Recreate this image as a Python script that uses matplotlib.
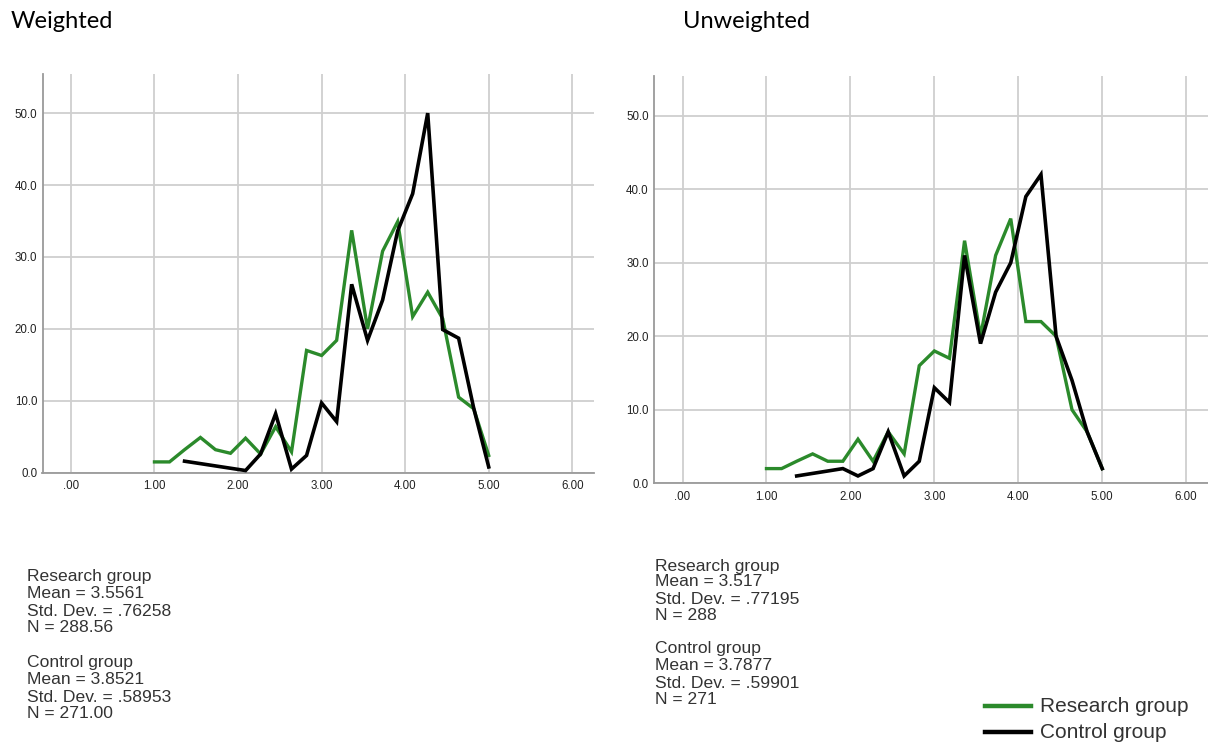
import matplotlib
matplotlib.use("Agg")
import matplotlib.pyplot as plt
from matplotlib.lines import Line2D

# Bin centres of the score scale (steps of 2/11 between 1 and 5)
bins = [1.00, 1.18, 1.36, 1.55, 1.73, 1.91, 2.09, 2.27, 2.45, 2.64, 2.82, 3.00,
        3.18, 3.36, 3.55, 3.73, 3.91, 4.09, 4.27, 4.45, 4.64, 4.82, 5.00]

# Weighted frequencies
w_research = [1.5, 1.5, 3.2, 4.9, 3.2, 2.7, 4.8, 2.6, 6.4, 2.9, 17.0, 16.3,
              18.4, 33.7, 20.0, 30.8, 34.9, 21.7, 25.1, 21.4, 10.5, 8.9, 2.4]
w_control_x = [1.36, 2.09, 2.27, 2.45, 2.64, 2.82, 3.00, 3.18, 3.36, 3.55, 3.73,
               3.91, 4.09, 4.27, 4.45, 4.64, 4.82, 5.00]
w_control = [1.6, 0.3, 2.6, 8.2, 0.5, 2.4, 9.7, 7.1, 26.2, 18.4, 24.0,
             33.6, 38.8, 50.0, 19.9, 18.7, 9.0, 0.8]

# Unweighted counts
u_research = [2, 2, 3, 4, 3, 3, 6, 3, 7, 4, 16, 18,
              17, 33, 20, 31, 36, 22, 22, 20, 10, 7, 2]
u_control_x = [1.36, 1.91, 2.09, 2.27, 2.45, 2.64, 2.82, 3.00, 3.18, 3.36, 3.55,
               3.73, 3.91, 4.09, 4.27, 4.45, 4.64, 4.82, 5.00]
u_control = [1, 2, 1, 2, 7, 1, 3, 13, 11, 31, 19,
             26, 30, 39, 42, 20, 14, 7, 2]

x_ticks = [0, 1, 2, 3, 4, 5, 6]
x_ticklabels = [".00", "1.00", "2.00", "3.00", "4.00", "5.00", "6.00"]
y_ticks = [0, 10, 20, 30, 40, 50]
y_ticklabels = ["0.0", "10.0", "20.0", "30.0", "40.0", "50.0"]

titles = ["Weighted", "Unweighted"]
stats_weighted = [["Research group", "Mean = 3.5561", "Std. Dev. = .76258", "N = 288.56"],
                  ["Control group", "Mean = 3.8521", "Std. Dev. = .58953", "N = 271.00"]]
stats_unweighted = [["Research group", "Mean = 3.517", "Std. Dev. = .77195", "N = 288"],
                    ["Control group", "Mean = 3.7877", "Std. Dev. = .59901", "N = 271"]]
legend_labels = ["Research group", "Control group"]

GREEN = "#2b8a2b"
BLACK = "#000000"
GRID = "#cfcfcf"
SPINE = "#9a9a9a"
TEXTFONT = ["Liberation Sans", "DejaVu Sans"]

W, H = 1208, 743
fig = plt.figure(figsize=(W / 100, H / 100), dpi=100)


def px_axes(left, top, right, bottom):
    return fig.add_axes([left / W, 1 - bottom / H, (right - left) / W, (bottom - top) / H])


def style(ax):
    ax.set_xlim(-0.34, 6.26)
    ax.set_ylim(0, 55.4)
    ax.set_xticks(x_ticks)
    ax.set_xticklabels(x_ticklabels)
    ax.set_yticks(y_ticks)
    ax.set_yticklabels(y_ticklabels)
    ax.grid(True, color=GRID, linewidth=1.3)
    ax.set_axisbelow(True)
    for s in ["top", "right"]:
        ax.spines[s].set_visible(False)
    for s in ["left", "bottom"]:
        ax.spines[s].set_color(SPINE)
        ax.spines[s].set_linewidth(1.3)
    ax.tick_params(length=0, labelsize=8.3, colors="#222222")
    ax.tick_params(axis="y", pad=3.8)
    ax.tick_params(axis="x", pad=5.2)
    for lab in ax.get_xticklabels() + ax.get_yticklabels():
        lab.set_family(TEXTFONT)


ax1 = px_axes(42.5, 74.3, 594, 472.7)
ax2 = px_axes(654, 76, 1208, 483.3)

for ax, rx, ry, cx, cy in [(ax1, bins, w_research, w_control_x, w_control),
                           (ax2, bins, u_research, u_control_x, u_control)]:
    style(ax)
    ax.plot(rx, ry, color=GREEN, linewidth=2.4, solid_joinstyle="miter", zorder=3)
    ax.plot(cx, cy, color=BLACK, linewidth=2.6, solid_joinstyle="miter", zorder=4)

# Panel titles
fig.text(11 / W, 1 - 21 / H, titles[0], family=["Lato", "DejaVu Sans"], fontsize=17,
         va="center", ha="left")
fig.text(683 / W, 1 - 21 / H, titles[1], family=["Lato", "DejaVu Sans"], fontsize=17,
         va="center", ha="left")

# Summary statistics blocks
def stat_block(x, ys, lines):
    for y, t in zip(ys, lines):
        fig.text(x / W, 1 - y / H, t, family=TEXTFONT, fontsize=12.6,
                 color="#333333", va="center", ha="left")


stat_block(27, [576, 593, 611, 628], stats_weighted[0])
stat_block(27, [663, 679, 697, 714], stats_weighted[1])
stat_block(655, [566, 582, 600, 616], stats_unweighted[0])
stat_block(655, [648, 665, 683, 699], stats_unweighted[1])

# Legend
for y, col, lab in [(706, GREEN, legend_labels[0]), (732, BLACK, legend_labels[1])]:
    fig.add_artist(Line2D([985 / W, 1031 / W], [1 - y / H, 1 - y / H],
                          color=col, linewidth=3.2, transform=fig.transFigure))
    fig.text(1040 / W, 1 - y / H, lab, family=TEXTFONT, fontsize=15,
             color="#333333", va="center", ha="left")

fig.savefig("out.png", dpi=100)
